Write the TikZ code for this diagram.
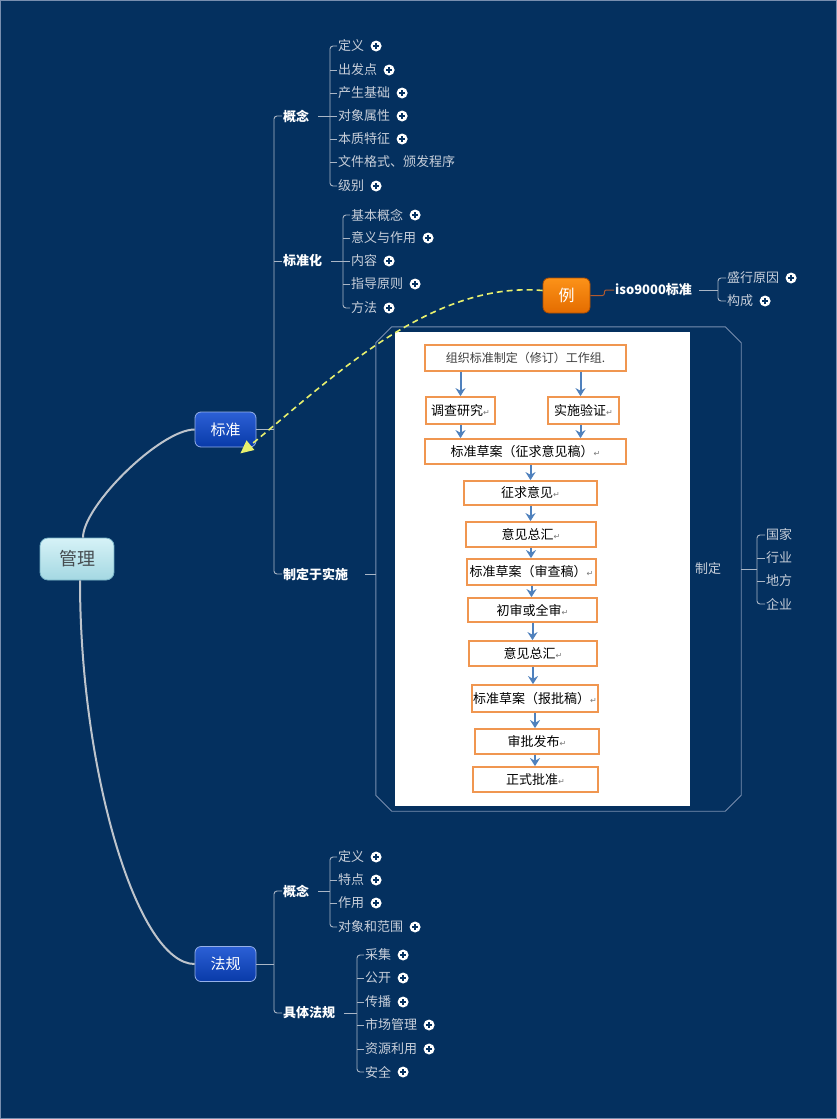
\documentclass[tikz,border=0pt]{standalone}
\usepackage{fontspec}
\setmainfont{Noto Sans CJK SC}
\newfontfamily\symfont{DejaVu Sans}
\usetikzlibrary{positioning,arrows.meta}
\definecolor{bgnavy}{RGB}{4,48,95}
\definecolor{leaftext}{RGB}{200,207,218}
\definecolor{branchgray}{RGB}{170,182,198}
\definecolor{curvegray}{RGB}{190,196,204}
\definecolor{framegray}{RGB}{120,142,175}
\definecolor{stepedge}{RGB}{240,150,80}
\definecolor{stepblue}{RGB}{79,129,189}
\definecolor{linkyellow}{RGB}{232,240,110}
\definecolor{exlinkbrown}{RGB}{176,90,48}
\definecolor{retgray}{RGB}{120,120,120}
\definecolor{roottop}{RGB}{214,242,247}
\definecolor{rootbottom}{RGB}{164,216,226}
\definecolor{rootedge}{RGB}{120,178,198}
\definecolor{rootink}{RGB}{70,76,80}
\definecolor{maintop}{RGB}{44,96,214}
\definecolor{mainbottom}{RGB}{8,58,168}
\definecolor{mainedge}{RGB}{150,176,232}
\definecolor{extop}{RGB}{252,146,24}
\definecolor{exbottom}{RGB}{228,108,0}
\definecolor{exedge}{RGB}{176,78,0}
\newcommand{\fsize}[1]{\fontsize{#1}{#1}\selectfont}
\newcommand{\ret}{{\symfont\fsize{8}\color{retgray}↵}}

\begin{document}
\begin{tikzpicture}[
    x=1pt, y=-1pt,
    % Styles
    root/.style={% central topic
        rectangle, rounded corners=8pt, draw=rootedge, line width=0.8pt,
        top color=roottop, bottom color=rootbottom,
        minimum width=74pt, minimum height=42pt,
        text=rootink, font=\fsize{18},
        },
    main/.style={% main topics
        rectangle, rounded corners=6pt, draw=mainedge, line width=0.8pt,
        top color=maintop, bottom color=mainbottom,
        minimum width=61pt, minimum height=35pt,
        text=white, font=\fsize{15},
        },
    example/.style={% floating topic
        rectangle, rounded corners=6pt, draw=exedge, line width=0.8pt,
        top color=extop, bottom color=exbottom,
        minimum width=47pt, minimum height=35pt,
        text=white, font=\fsize{16},
        },
    topic/.style={% bold subtopics
        anchor=west, inner sep=1pt, text=white, font=\fsize{13}\bfseries,
        },
    leaf/.style={% plain subtopics
        anchor=west, inner sep=1pt, text=leaftext, font=\fsize{13},
        },
    expander/.style={% the little plus button
        circle, fill=white, minimum size=11pt, inner sep=0pt,
        path picture={
            \draw[line width=1.4pt, bgnavy]
              ([xshift=-3pt]path picture bounding box.center) -- ([xshift=3pt]path picture bounding box.center)
              ([yshift=-3pt]path picture bounding box.center) -- ([yshift=3pt]path picture bounding box.center);
            },
        },
    photoframe/.style={% frame round the picture (drawn by hand)
        rectangle, minimum width=365pt, minimum height=484pt, inner sep=0pt,
        },
    sheet/.style={% white picture area
        rectangle, fill=white, minimum width=295pt, minimum height=474pt, inner sep=0pt,
        },
    stepbox/.style={% flow chart boxes
        rectangle, draw=stepedge, line width=1.8pt, fill=white,
        minimum height=25pt, inner sep=1pt, text=black, font=\fsize{13},
        },
    branch/.style={draw=branchgray, line width=0.9pt},
    trunk/.style={draw=curvegray, line width=2pt},
    frame/.style={draw=framegray, line width=0.9pt},
    flow/.style={draw=stepblue, line width=2pt, -{Stealth[length=8pt,width=10pt]}},
    dashlink/.style={draw=linkyellow, line width=1.6pt, dash pattern=on 6pt off 4pt,
        -{Triangle[length=13pt,width=12pt,fill=linkyellow]}},
    exlink/.style={draw=exlinkbrown, line width=1pt, rounded corners=2pt},
    ]

% Background
\fill[bgnavy] (0,0) rectangle (837,1119);
\useasboundingbox (0,0) rectangle (837,1119);
\draw[framegray, line width=1pt] (0.5,0.5) rectangle (836.5,1118.5);

% Main topics
\node[root] (gl) at (77,559) {管理};
\node[main] (bz) at (225.5,429.5) {标准};
\node[main] (fg) at (225.5,964) {法规};

\draw[trunk] ([xshift=6pt]gl.north) .. controls +(0,-32) and +(-34,0) .. (bz.west);
\draw[trunk] ([xshift=3pt]gl.south) .. controls +(0,192) and +(-57,0) .. (fg.west);

% Subtopics of 标准
\node[topic] (gn) at (282,116) {概念};
\node[topic] (bzh) at (282,261) {标准化};
\node[topic] (zs) at (282,574) {制定于实施};
\coordinate (bzhub) at (274,429.5);
\draw[branch] (bz.east) -- (bzhub);
\draw[branch, rounded corners=3pt] (gn.west) -| (bzhub) |- (zs.west);
\draw[branch] (bzh.west) -- (bzh.west -| bzhub);

% 概念
\foreach \n/\y/\t/\p in {gd1/46/定义/1, gd2/70/出发点/1, gd3/93/产生基础/1, gd4/116/对象属性/1,
    gd5/139/本质特征/1, gd6/162/文件格式、颁发程序/0, gd7/186/级别/1}{
  \node[leaf] (\n) at (337,\y) {\t};
  \ifnum\p=1 \node[expander, right=5pt of \n] (\n x) {}; \fi
}
\coordinate (gnhub) at (330,116);
\draw[branch, shorten <=8pt] (gn.east) -- (gnhub);
\draw[branch, rounded corners=3pt] (gd1.west) -| (gnhub) |- (gd7.west);
\foreach \m in {gd2,gd3,gd4,gd5,gd6} \draw[branch] (\m.west) -- (\m.west -| gnhub);

% 标准化
\foreach \n/\y/\t in {hd1/215/基本概念, hd2/238/意义与作用, hd3/261/内容, hd4/284/指导原则, hd5/308/方法}{
  \node[leaf] (\n) at (350,\y) {\t};
  \node[expander, right=5pt of \n] (\n x) {};
}
\coordinate (bzhhub) at (343,261);
\draw[branch, shorten <=8pt] (bzh.east) -- (bzhhub);
\draw[branch, rounded corners=3pt] (hd1.west) -| (bzhhub) |- (hd5.west);
\foreach \m in {hd2,hd3,hd4} \draw[branch] (\m.west) -- (\m.west -| bzhhub);

% 制定于实施 with its picture
\node[photoframe] (photo) at (558.5,569) {};
\draw[frame] ([xshift=16pt]photo.north west) -- ([xshift=-16pt]photo.north east)
    -- ([yshift=-16pt]photo.north east) -- ([yshift=16pt]photo.south east)
    -- ([xshift=-16pt]photo.south east) -- ([xshift=16pt]photo.south west)
    -- ([yshift=16pt]photo.south west) -- ([yshift=-16pt]photo.north west) -- cycle;
\node[sheet] (sheet) at (542.5,569) {};
\draw[branch, shorten <=16pt] (zs.east) -- (zs.east -| photo.west);

\node[stepbox, minimum width=201pt, minimum height=26pt, font=\fsize{12}, text=black!75] (org) at (525.5,358) {组织标准制定（修订）工作组.};
\node[stepbox, minimum width=69pt, minimum height=27pt] (dc) at (460.5,410.5) {调查研究\ret};
\node[stepbox, minimum width=71pt, minimum height=27pt] (sy) at (583.5,410.5) {实施验证\ret};
\node[stepbox, minimum width=201pt] (zq) at (525.5,451.5) {标准草案（征求意见稿）\ret};
\node[stepbox, minimum width=133pt, minimum height=24pt] (zj) at (530.5,493) {征求意见\ret};
\node[stepbox, minimum width=130pt] (hz1) at (531,534.5) {意见总汇\ret};
\node[stepbox, minimum width=129pt, minimum height=26pt] (sc) at (531.5,572) {标准草案（审查稿）\ret};
\node[stepbox, minimum width=129pt, minimum height=24pt] (cs) at (532.5,610) {初审或全审\ret};
\node[stepbox, minimum width=128pt] (hz2) at (533,653.5) {意见总汇\ret};
\node[stepbox, minimum width=126pt, minimum height=27pt] (bp) at (535,698.5) {标准草案（报批稿）\ret};
\node[stepbox, minimum width=124pt] (sp) at (537,741.5) {审批发布\ret};
\node[stepbox, minimum width=125pt] (zs2) at (535.5,779.5) {正式批准\ret};

\draw[flow] (dc.north |- org.south) -- (dc.north);
\draw[flow] ([xshift=-3pt]sy.north |- org.south) -- ([xshift=-3pt]sy.north);
\draw[flow] (dc.south) -- (dc.south |- zq.north);
\draw[flow] ([xshift=-3pt]sy.south) -- ([xshift=-3pt]sy.south |- zq.north);
\draw[flow] (zj.north |- zq.south) -- (zj.north);
\draw[flow] (zj.south) -- (zj.south |- hz1.north);
\draw[flow] (hz1.south) -- (hz1.south |- sc.north);
\draw[flow] (sc.south) -- (sc.south |- cs.north);
\draw[flow] (cs.south) -- (cs.south |- hz2.north);
\draw[flow] (hz2.south) -- (hz2.south |- bp.north);
\draw[flow] (bp.south) -- (bp.south |- sp.north);
\draw[flow] ([xshift=-2pt]sp.south) -- ([xshift=-2pt]sp.south |- zs2.north);

% 制定
\node[leaf] (zd) at (694,569) {制定};
\foreach \n/\y/\t in {zd1/535/国家, zd2/558/行业, zd3/581/地方, zd4/604/企业}{
  \node[leaf] (\n) at (765,\y) {\t};
}
\coordinate (zdhub) at (757,569);
\draw[branch] (photo.east) -- (zdhub);
\draw[branch, rounded corners=3pt] (zd1.west) -| (zdhub) |- (zd4.west);
\foreach \m in {zd2,zd3} \draw[branch] (\m.west) -- (\m.west -| zdhub);

% Floating topic 例
\node[example] (li) at (566.5,295.5) {例};
\node[topic] (iso) at (614,290) {iso9000标准};
\draw[exlink] (li.east) -- ++(14,0) |- (iso.west);
\foreach \n/\y/\t in {is1/278/盛行原因, is2/301/构成}{
  \node[leaf] (\n) at (726,\y) {\t};
  \node[expander, right=5pt of \n] (\n x) {};
}
\coordinate (isohub) at (718,290);
\draw[branch, shorten <=6pt] (iso.east) -- (isohub);
\draw[branch, rounded corners=3pt] (is1.west) -| (isohub) |- (is2.west);

% Relationship link
\draw[dashlink] ([yshift=5pt]li.west) .. controls +(-113,-10) and +(88,-72) .. ([xshift=-16pt,yshift=-6pt]bz.south east);

% Subtopics of 法规
\node[topic] (fgn) at (282,891) {概念};
\node[topic] (jt) at (282,1013) {具体法规};
\coordinate (fghub) at (274,964);
\draw[branch] (fg.east) -- (fghub);
\draw[branch, rounded corners=3pt] (fgn.west) -| (fghub) |- (jt.west);

\foreach \n/\y/\t in {fd1/857/定义, fd2/880/特点, fd3/903/作用, fd4/927/对象和范围}{
  \node[leaf] (\n) at (337,\y) {\t};
  \node[expander, right=5pt of \n] (\n x) {};
}
\coordinate (fgnhub) at (330,891);
\draw[branch, shorten <=8pt] (fgn.east) -- (fgnhub);
\draw[branch, rounded corners=3pt] (fd1.west) -| (fgnhub) |- (fd4.west);
\foreach \m in {fd2,fd3} \draw[branch] (\m.west) -- (\m.west -| fgnhub);

\foreach \n/\y/\t in {jd1/955/采集, jd2/978/公开, jd3/1002/传播, jd4/1025/市场管理, jd5/1049/资源利用, jd6/1072/安全}{
  \node[leaf] (\n) at (364,\y) {\t};
  \node[expander, right=5pt of \n] (\n x) {};
}
\coordinate (jthub) at (357,1013);
\draw[branch, shorten <=8pt] (jt.east) -- (jthub);
\draw[branch, rounded corners=3pt] (jd1.west) -| (jthub) |- (jd6.west);
\foreach \m in {jd2,jd3,jd4,jd5} \draw[branch] (\m.west) -- (\m.west -| jthub);

\end{tikzpicture}
\end{document}
